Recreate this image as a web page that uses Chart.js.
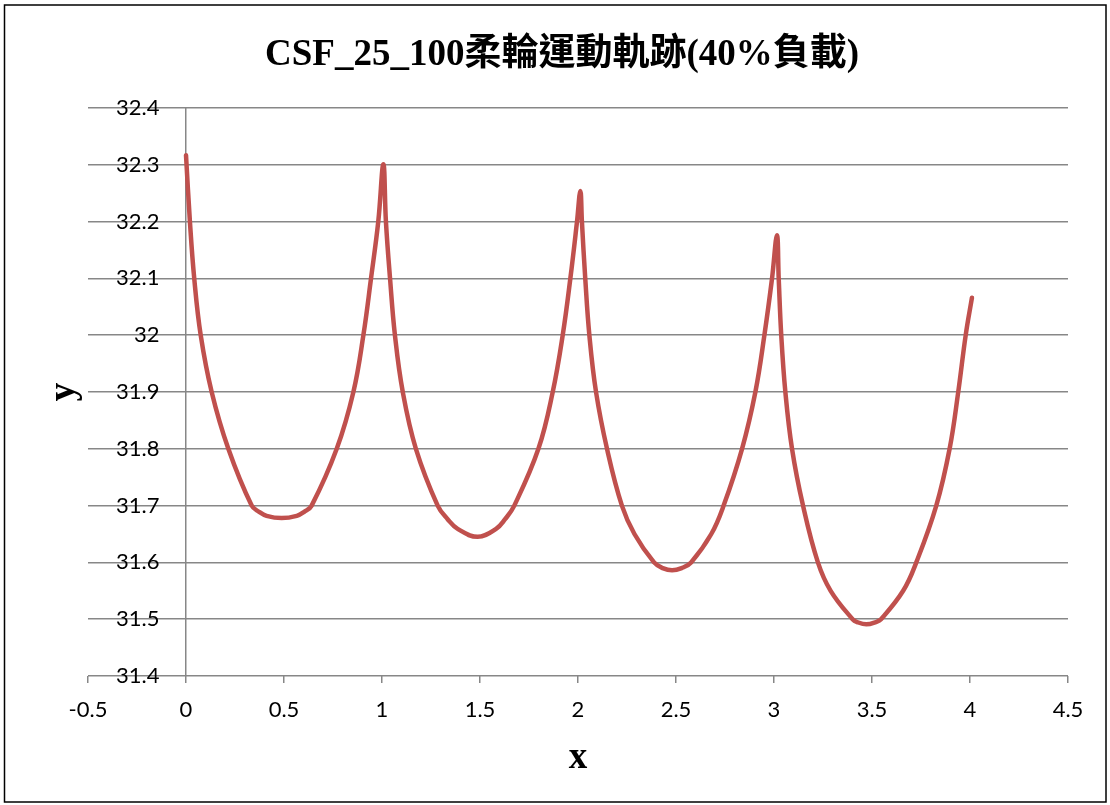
<!DOCTYPE html>
<html>
<head>
<meta charset="utf-8">
<script src="https://cdn.jsdelivr.net/npm/chart.js@4/dist/chart.umd.min.js"></script>
<style>
    body { margin: 0; background: #fff; }
    canvas { display: block; }
</style>
</head>
<body>
<canvas id="trackChart" width="1110" height="805"></canvas>
<script>
const chartTitle = 'CSF_25_100柔輪運動軌跡(40%負載)';
const xTitle = 'x';
const yTitle = 'y';

// points, one cycle per line
const xValues = [
    0, 0.020, 0.042, 0.075, 0.131, 0.216, 0.335, 0.373, 0.411, 0.488, 0.565, 0.603, 0.641, 0.769, 0.854, 0.905, 0.944, 0.981, 1.007,
    1.020, 1.041, 1.066, 1.106, 1.173, 1.284, 1.335, 1.386, 1.488, 1.582, 1.628, 1.675, 1.798, 1.871, 1.922, 1.961, 1.995, 2.012,
    2.020, 2.037, 2.058, 2.092, 2.148, 2.224, 2.288, 2.388, 2.432, 2.480, 2.529, 2.577, 2.680, 2.743, 2.837, 2.905, 2.951, 2.990, 3.015,
    3.024, 3.037, 3.058, 3.092, 3.148, 3.224, 3.289, 3.401, 3.424, 3.471, 3.520, 3.546, 3.659, 3.726, 3.828, 3.896, 3.940, 3.978, 4.010,
];
const yValues = [
    32.317, 32.2, 32.1, 32.0, 31.9, 31.8, 31.7, 31.689, 31.682, 31.678, 31.682, 31.689, 31.7, 31.8, 31.9, 32.0, 32.1, 32.2, 32.301,
    32.2, 32.1, 32.0, 31.9, 31.8, 31.7, 31.676, 31.659, 31.645, 31.659, 31.676, 31.7, 31.8, 31.9, 32.0, 32.1, 32.2, 32.254,
    32.2, 32.1, 32.0, 31.9, 31.8, 31.7, 31.65, 31.6, 31.59, 31.586, 31.59, 31.6, 31.65, 31.7, 31.8, 31.9, 32.0, 32.1, 32.176,
    32.1, 32.0, 31.9, 31.8, 31.7, 31.6, 31.55, 31.5, 31.495, 31.491, 31.495, 31.5, 31.55, 31.6, 31.7, 31.8, 31.9, 32.0, 32.066,
];

const xMin = -0.5, xMax = 4.5, xStep = 0.5;
const yMin = 31.4, yMax = 32.4, yStep = 0.1;

const gridColor = '#878787';
const tickFont = { family: 'Lato, Carlito, sans-serif', size: 22 };
const titleFamily = "'Liberation Serif', 'Times New Roman', 'Noto Sans CJK TC', serif";

const fmt = (v) => String(+Number(v).toFixed(1));

const frame = {
    id: 'frame',
    beforeDraw(chart) {
        const ctx = chart.ctx;
        ctx.save();
        ctx.fillStyle = '#fff';
        ctx.fillRect(0, 0, chart.width, chart.height);
        ctx.restore();
    },
    afterDraw(chart) {
        const ctx = chart.ctx;
        ctx.save();
        ctx.strokeStyle = '#000';
        ctx.lineWidth = 1.5;
        ctx.strokeRect(4.5, 5, 1101.5, 797);
        ctx.restore();
    },
};

new Chart('trackChart', {
    type: 'line',
    data: {
        datasets: [
            {
                data: xValues.map((x, i) => ({ x: x, y: yValues[i] })),
                borderColor: '#C0504D',
                borderWidth: 4.5,
                borderCapStyle: 'round',
                borderJoinStyle: 'round',
                pointRadius: 0,
                tension: 0.4,
                fill: false,
            },
        ],
    },
    options: {
        responsive: false,
        animation: false,
        layout: { padding: { left: 14, right: 0, top: 0, bottom: 0 } },
        plugins: {
            legend: { display: false },
            tooltip: { enabled: false },
            title: {
                display: true,
                text: chartTitle,
                color: '#000',
                font: { family: titleFamily, size: 37, weight: 'bold' },
                padding: { top: 33, bottom: 30.6 },
            },
        },
        scales: {
            x: {
                type: 'linear',
                min: xMin,
                max: xMax,
                border: { display: false },
                grid: {
                    color: (c) => (c.tick && c.tick.value === 0 ? gridColor : 'rgba(0,0,0,0)'),
                    lineWidth: 1.5,
                    tickColor: gridColor,
                    tickLength: 7,
                    tickWidth: 1.5,
                },
                ticks: {
                    stepSize: xStep,
                    color: '#000',
                    font: tickFont,
                    padding: 14,
                    maxRotation: 0,
                    callback: fmt,
                },
                title: {
                    display: true,
                    text: xTitle,
                    color: '#000',
                    font: { family: titleFamily, size: 37, weight: 'bold' },
                    padding: { top: 0, bottom: 24 },
                },
                afterFit(scale) {
                    scale.height = 129;
                },
            },
            y: {
                min: yMin,
                max: yMax,
                border: { display: false },
                grid: {
                    color: gridColor,
                    lineWidth: 1.5,
                    drawTicks: false,
                },
                ticks: {
                    stepSize: yStep,
                    color: '#000',
                    font: tickFont,
                    mirror: true,
                    crossAlign: 'far',
                    padding: 28,
                    callback: fmt,
                },
                title: {
                    display: true,
                    text: yTitle,
                    color: '#000',
                    font: { family: titleFamily, size: 37, weight: 'bold' },
                    padding: { top: 28, bottom: 0 },
                },
                afterFit(scale) {
                    scale.width = 74;
                },
            },
            yRight: {
                type: 'linear',
                position: 'right',
                display: true,
                border: { display: false },
                grid: { display: false },
                ticks: { display: false },
                afterFit(scale) {
                    scale.width = 42;
                },
            },
        },
    },
    plugins: [frame],
});
</script>
</body>
</html>
